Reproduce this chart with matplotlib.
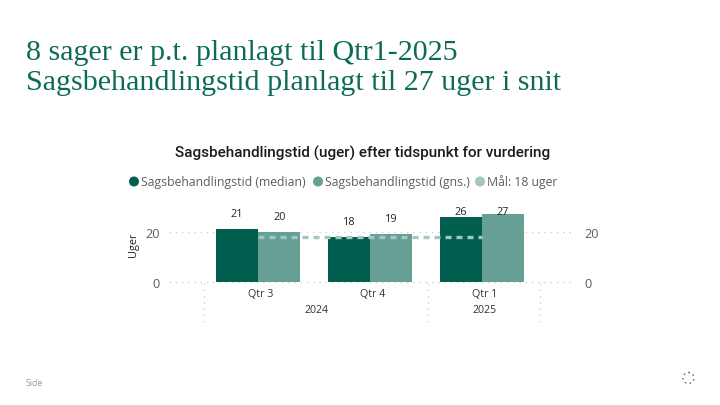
import numpy as np
import matplotlib; matplotlib.use("Agg")
import matplotlib.pyplot as plt
from matplotlib.patches import Circle

quarters = ["Qtr 3", "Qtr 4", "Qtr 1"]
years = ["2024", "2025"]
median = [21, 18, 26]
mean = [20, 19, 27]
target = [18, 18, 18]
yticks = [0, 20]
DARK, MID, LIGHT = "#005f4e", "#66a094", "#a3c7bf"
GREEN, GREY = "#0b6b57", "#605e5c"
W, H = 720, 406

fig = plt.figure(figsize=(7.2, 4.06), dpi=100)
# overlay in pixel coords for slide text
bg = fig.add_axes([0, 0, 1, 1], zorder=3)
bg.set_xlim(0, W); bg.set_ylim(H, 0); bg.axis("off")

bg.text(26, 53, "8 sager er p.t. planlagt til Qtr1-2025", family="Liberation Serif",
        fontsize=21.6, color=GREEN, va="center")
bg.text(26, 83, "Sagsbehandlingstid planlagt til 27 uger i snit", family="Liberation Serif",
        fontsize=21.6, color=GREEN, va="center")
bg.text(362.5, 153.5, "Sagsbehandlingstid (uger) efter tidspunkt for vurdering", family="Roboto",
        fontsize=11, color="#1a1a1a", ha="center", va="center", fontweight="medium")

leg = [("Sagsbehandlingstid (median)", DARK, 134), ("Sagsbehandlingstid (gns.)", MID, 318),
       ("Mål: 18 uger", LIGHT, 480)]
for lab, c, x in leg:
    bg.add_patch(Circle((x, 182.5), 5, fc=c, ec="none"))
    bg.text(x + 7, 182.5, lab, family="Open Sans", fontsize=8.8, color=GREY, va="center")

bg.text(26, 384, "Side", family="Open Sans", fontsize=6.2, color="#9a9a9a", va="center")
bg.add_patch(Circle((688.5, 379), 5.5, fc="none", ec="#4d8578", lw=1.1, ls=(0, (1, 2.2))))

# chart area, 169..575 px wide, baseline at 282.7 px
top, base = 205, 282.7
ax = fig.add_axes([169 / W, 1 - base / H, (575 - 169) / W, (base - top) / H])
ax.set_xlim(-0.795, 2.83)
ax.set_ylim(0, (base - top) / 2.5)
x = np.arange(len(quarters))
bw = 0.378
ax.bar(x - bw / 2, median, bw, color=DARK, zorder=2)
ax.bar(x + bw / 2, mean, bw, color=MID, zorder=2)
ax.plot(x, target, color=LIGHT, lw=2.4, ls=(0, (1.8, 1.5)), dash_capstyle="butt", zorder=3)

# labels get pushed against the top of the plot for the tall bars
for xs, vals in ((x - bw / 2, median), (x + bw / 2, mean)):
    for xi, v in zip(xs, vals):
        ax.text(xi, min(v + 6.2, 28.1), str(v), ha="center", va="center", family="Open Sans",
                fontsize=7.8, color="#252423", zorder=4, clip_on=False)

for s in ax.spines.values():
    s.set_visible(False)
ax.set_yticks(yticks)
ax.tick_params(axis="y", length=0, pad=6.5, labelsize=9.2, labelcolor=GREY)
ax.tick_params(axis="x", length=0)
for t in ax.get_yticklabels():
    t.set_family("Open Sans")
ax.grid(axis="y", color="#c8c8c8", lw=0.9, ls=(0, (1, 4)), zorder=0)
for g in ax.get_ygridlines():
    g.set_clip_on(False)
ax.set_axisbelow(True)
ax.set_xticks([])
ax.patch.set_alpha(0)

ax2 = ax.twinx()
ax2.set_ylim(ax.get_ylim()); ax2.set_yticks(yticks)
ax2.tick_params(axis="y", length=0, pad=6.5, labelsize=9.2, labelcolor=GREY)
for t in ax2.get_yticklabels():
    t.set_family("Open Sans")
for s in ax2.spines.values():
    s.set_visible(False)

# hierarchical category axis
pxy = ax.get_xaxis_transform()
for xi, q in zip(x, quarters):
    ax.text(xi + 0.02, -0.158, q, transform=pxy, ha="center", va="center", family="Open Sans",
            fontsize=7.7, color="#333333")
ax.text(0.52, -0.364, years[0], transform=pxy, ha="center", va="center", family="Open Sans",
        fontsize=7.7, color="#333333")
ax.text(2.02, -0.364, years[1], transform=pxy, ha="center", va="center", family="Open Sans",
        fontsize=7.7, color="#333333")
for d in (-0.48, 1.52, 2.52):
    ax.plot([d, d], [-0.02, -0.52], transform=pxy, color="#c8c8c8", lw=0.9, ls=(0, (1, 4)), clip_on=False)

bg.text(134, 245, "Uger", rotation=90, family="Open Sans", fontsize=7.8, color="#222222",
        ha="center", va="center", fontweight="medium")

fig.savefig("out.png", dpi=100)
